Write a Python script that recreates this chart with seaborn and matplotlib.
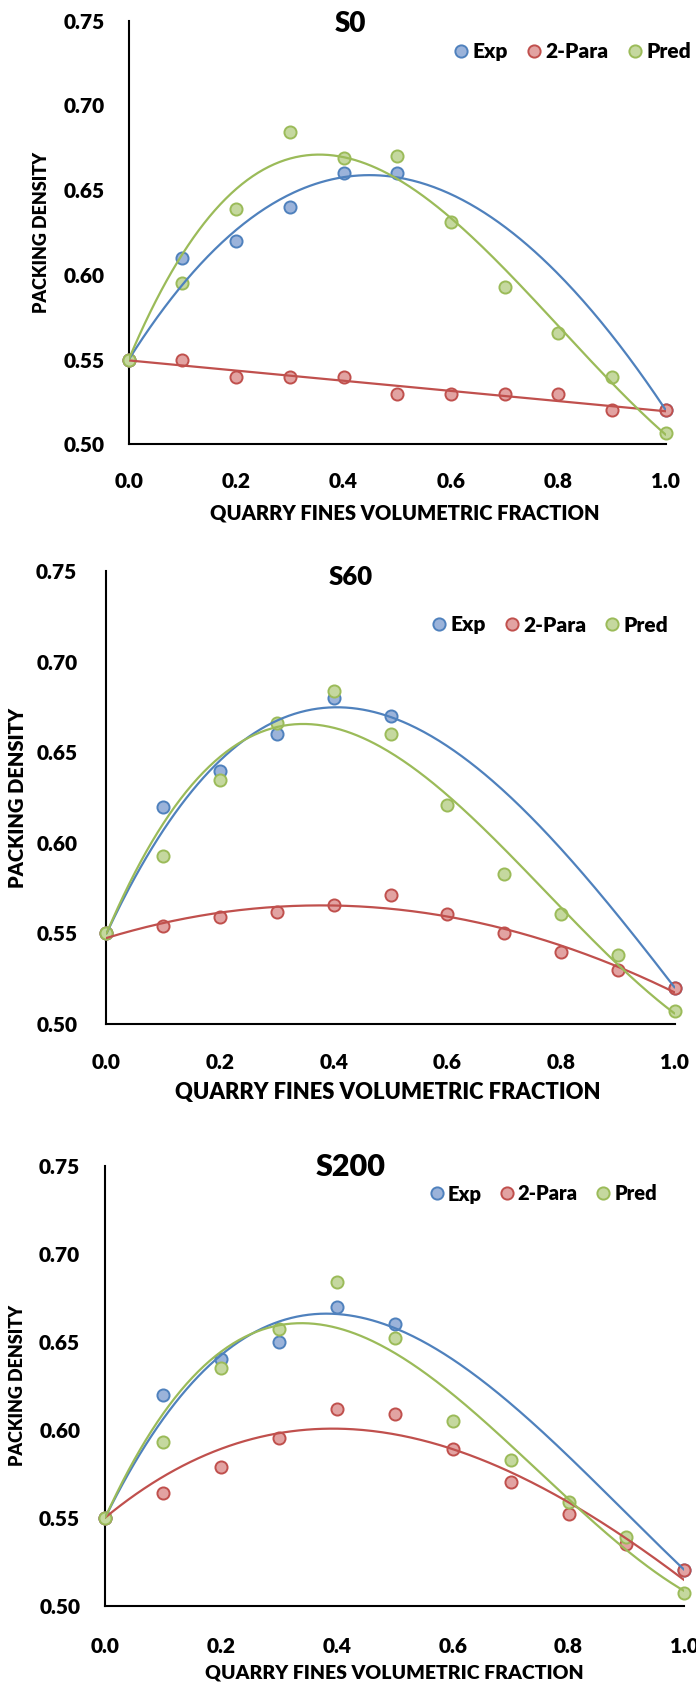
import numpy as np
import pandas as pd
import matplotlib
matplotlib.use("Agg")
import matplotlib.pyplot as plt
from matplotlib import font_manager
from matplotlib.lines import Line2D
import seaborn as sns

# ---------------- data ----------------
x_exp = [0.0, 0.1, 0.2, 0.3, 0.4, 0.5, 1.0]
x_all = [0.0, 0.1, 0.2, 0.3, 0.4, 0.5, 0.6, 0.7, 0.8, 0.9, 1.0]

s0_exp = [0.55, 0.61, 0.62, 0.64, 0.66, 0.66, 0.52]
s0_2para = [0.55, 0.55, 0.54, 0.54, 0.54, 0.53, 0.53, 0.53, 0.53, 0.52, 0.52]
s0_pred = [0.55, 0.595, 0.639, 0.684, 0.669, 0.670, 0.631, 0.593, 0.566, 0.540, 0.507]

s60_exp = [0.55, 0.62, 0.64, 0.66, 0.68, 0.67, 0.52]
s60_2para = [0.55, 0.554, 0.559, 0.562, 0.566, 0.571, 0.561, 0.550, 0.540, 0.530, 0.520]
s60_pred = [0.55, 0.593, 0.635, 0.666, 0.684, 0.660, 0.621, 0.583, 0.561, 0.538, 0.507]

s200_exp = [0.55, 0.62, 0.64, 0.65, 0.67, 0.66, 0.52]
s200_2para = [0.55, 0.564, 0.579, 0.595, 0.612, 0.609, 0.589, 0.570, 0.552, 0.535, 0.520]
s200_pred = [0.55, 0.593, 0.635, 0.657, 0.684, 0.652, 0.605, 0.583, 0.559, 0.539, 0.507]

panel_titles = ["S0", "S60", "S200"]
series_names = ["Exp", "2-Para", "Pred"]
y_ticks = [0.50, 0.55, 0.60, 0.65, 0.70, 0.75]
x_ticks = [0.0, 0.2, 0.4, 0.6, 0.8, 1.0]
x_label = "QUARRY FINES VOLUMETRIC FRACTION"
y_label = "PACKING DENSITY"

# trendline settings per panel: (order, intercept fixed at first point?)
trend_cfg = [
    [(3, True), (1, False), (3, True)],
    [(3, True), (3, False), (3, True)],
    [(3, True), (3, True), (3, True)],
]


def trend(xv, yv, order, fixed):
    xv = np.asarray(xv, float)
    yv = np.asarray(yv, float)
    xg = np.linspace(xv.min(), xv.max(), 300)
    if fixed:
        y0 = yv[0]
        A = np.column_stack([xv ** p for p in range(1, order + 1)])
        coef, *_ = np.linalg.lstsq(A, yv - y0, rcond=None)
        yg = y0 + sum(c * xg ** (p + 1) for p, c in enumerate(coef))
    else:
        coef = np.polyfit(xv, yv, order)
        yg = np.polyval(coef, xg)
    return xg, yg


# ---------------- style ----------------
sns.set_theme(style="white")


def pick_family(cands):
    for c in cands:
        for f in font_manager.fontManager.ttflist:
            w = f.weight
            if isinstance(w, str):
                w = 700 if "bold" in w.lower() else 400
            if f.name == c and w >= 600 and f.style == "normal":
                return c
    return "DejaVu Sans"


fam = pick_family(["Lato", "Roboto", "Open Sans", "Noto Sans"])
WT = "heavy"
plt.rcParams["font.family"] = [fam, "DejaVu Sans"]
plt.rcParams["font.weight"] = WT
plt.rcParams["axes.labelweight"] = WT

line_cols = ["#4F81BD", "#C0504D", "#9BBB59"]
fill_cols = ["#9BB3DA", "#E2A3A2", "#C5D89F"]

fig = plt.figure(figsize=(6.96, 16.88), dpi=100)
W, H = 696.0, 1688.0

# axes boxes in pixels: left, right, top, bottom
boxes = [(128.7, 665.8, 20.6, 444.4),
         (106.5, 674.7, 571.4, 1024.0),
         (105.2, 684.4, 1166.0, 1605.5)]
title_pos = [(350.6, 24.0, 20), (350.6, 577.0, 18.5), (350.6, 1167.0, 22)]
legend_pos = [(454.0, 51.4), (431.5, 625.0), (429.5, 1194.0)]
legend_size = [15, 15, 14.5]
xlabel_pos = [(405.0, 513.0), (388.0, 1092.0), (394.0, 1673.0)]
xlabel_size = [14.5, 15.8, 14]
ylabel_x = [42.0, 18.0, 18.0]
ylabel_size = [13, 14.5, 13]
xtick_pad = [14, 15, 17]
ytick_pad = [11, 15, 12]

datasets = [
    (s0_exp, s0_2para, s0_pred),
    (s60_exp, s60_2para, s60_pred),
    (s200_exp, s200_2para, s200_pred),
]

for i, (exp, para, pred) in enumerate(datasets):
    l, r, t, b = boxes[i]
    ax = fig.add_axes([l / W, 1 - b / H, (r - l) / W, (b - t) / H])
    xs = [x_exp, x_all, x_all]
    ys = [exp, para, pred]
    for k in range(3):
        df = pd.DataFrame({"x": xs[k], "y": ys[k]})
        sns.scatterplot(data=df, x="x", y="y", ax=ax, s=76,
                        color=fill_cols[k], edgecolor=line_cols[k],
                        linewidth=1.4, zorder=3, clip_on=False, legend=False)
    for k in range(3):
        order, fixed = trend_cfg[i][k]
        xg, yg = trend(xs[k], ys[k], order, fixed)
        sns.lineplot(x=xg, y=yg, ax=ax, color=line_cols[k], lw=1.6,
                     zorder=4, sort=False, estimator=None, legend=False)
    ax.set_xlim(0, 1.0)
    ax.set_ylim(0.50, 0.75)
    ax.set_xticks(x_ticks)
    ax.set_yticks(y_ticks)
    ax.set_xticklabels([f"{v:.1f}" for v in x_ticks])
    ax.set_yticklabels([f"{v:.2f}" for v in y_ticks])
    ax.tick_params(axis="both", which="both", direction="out", length=6,
                   width=1.4, color="black", labelsize=15, labelcolor="black")
    ax.tick_params(axis="x", pad=xtick_pad[i])
    ax.tick_params(axis="y", pad=ytick_pad[i])
    for lab in ax.get_xticklabels() + ax.get_yticklabels():
        lab.set_fontweight(WT)
    ax.spines["top"].set_visible(False)
    ax.spines["right"].set_visible(False)
    for sp in ("left", "bottom"):
        ax.spines[sp].set_color("black")
        ax.spines[sp].set_linewidth(1.5)
    ax.set_xlabel("")
    ax.set_ylabel("")
    ax.grid(False)
    ax.set_facecolor("white")

    # titles / labels
    tx, ty, ts = title_pos[i]
    fig.text(tx / W, 1 - ty / H, panel_titles[i], ha="center", va="center",
             fontsize=ts, fontweight=WT, color="black")
    xlx, xly = xlabel_pos[i]
    fig.text(xlx / W, 1 - xly / H, x_label, ha="center",
             va="center", fontsize=xlabel_size[i], fontweight=WT, color="black")
    fig.text(ylabel_x[i] / W, 1 - ((t + b) / 2) / H, y_label, ha="center",
             va="center", rotation=90, fontsize=ylabel_size[i],
             fontweight=WT, color="black")

    handles = [Line2D([], [], ls="none", marker="o", markersize=8.8,
                      markerfacecolor=fill_cols[k], markeredgecolor=line_cols[k],
                      markeredgewidth=1.4) for k in range(3)]
    lx, ly = legend_pos[i]
    leg = ax.legend(handles, series_names, loc="center left",
                    bbox_to_anchor=(lx / W, 1 - ly / H),
                    bbox_transform=fig.transFigure,
                    ncol=3, frameon=False, borderpad=0, borderaxespad=0,
                    handlelength=0.7, handletextpad=0.2, columnspacing=0.9,
                    prop=dict(size=legend_size[i], weight=WT))
    for txt in leg.get_texts():
        txt.set_color("black")

fig.savefig("out.png", dpi=100, facecolor="white")
